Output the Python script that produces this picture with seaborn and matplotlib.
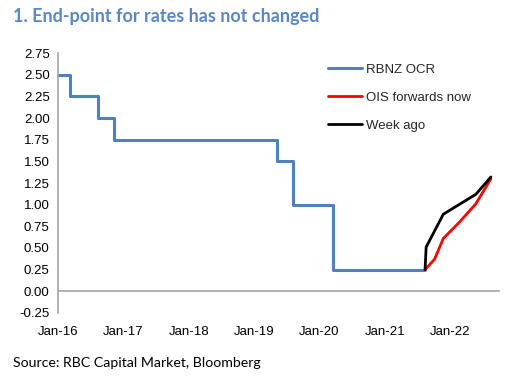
import pandas as pd
import numpy as np
import matplotlib
matplotlib.use('Agg')
import matplotlib.pyplot as plt
import matplotlib.dates as mdates
import seaborn as sns

# RBNZ OCR decisions (step series)
ocr_dates = ['2016-01-01', '2016-03-10', '2016-08-11', '2016-11-10',
             '2019-05-08', '2019-08-07', '2020-03-16', '2021-08-14']
ocr_rate = [2.50, 2.25, 2.00, 1.75, 1.50, 1.00, 0.25, 0.25]

# OIS forwards now
ois_dates = ['2021-08-14', '2021-10-06', '2021-11-24', '2022-02-23',
             '2022-05-25', '2022-08-17']
ois_rate = [0.25, 0.37, 0.61, 0.80, 1.01, 1.30]

# Week ago
wk_dates = ['2021-08-14', '2021-08-20', '2021-11-24', '2022-05-25',
            '2022-08-17']
wk_rate = [0.25, 0.51, 0.89, 1.12, 1.32]

yticks = np.arange(-0.25, 2.76, 0.25)
xtick_years = [2016, 2017, 2018, 2019, 2020, 2021, 2022]

ocr = pd.DataFrame({'date': pd.to_datetime(ocr_dates), 'rate': ocr_rate})
ois = pd.DataFrame({'date': pd.to_datetime(ois_dates), 'rate': ois_rate})
wk = pd.DataFrame({'date': pd.to_datetime(wk_dates), 'rate': wk_rate})

sns.set_style('white')
plt.rcParams['font.family'] = ['Liberation Sans', 'DejaVu Sans']

fig = plt.figure(figsize=(5.05, 3.77), dpi=100)
ax = fig.add_axes([0.115, 0.170, 0.873, 0.689])

sns.lineplot(data=ocr, x='date', y='rate', ax=ax, color='#4F81BD', lw=2.2,
             drawstyle='steps-post', label='RBNZ OCR')
sns.lineplot(data=ois, x='date', y='rate', ax=ax, color='#FF0000', lw=2.0,
             label='OIS forwards now')
sns.lineplot(data=wk, x='date', y='rate', ax=ax, color='black', lw=2.0,
             label='Week ago')

ax.set_xlim(pd.Timestamp('2016-01-01'), pd.Timestamp('2022-10-01'))
ax.set_ylim(-0.25, 2.75)
ax.set_yticks(yticks)
ax.set_yticklabels([f'{v:.2f}' for v in yticks])
ax.set_xticks([pd.Timestamp(f'{y}-01-01') for y in xtick_years])
ax.xaxis.set_major_formatter(mdates.DateFormatter('%b-%y'))
ax.set_xlabel('')
ax.set_ylabel('')

for s in ['top', 'right']:
    ax.spines[s].set_visible(False)
ax.spines['bottom'].set_position(('data', 0))
ax.spines['bottom'].set_color('#A6A6A6')
ax.spines['left'].set_color('#A6A6A6')
ax.spines['bottom'].set_linewidth(1.2)
ax.spines['left'].set_linewidth(1.2)
ax.tick_params(axis='both', direction='out', length=4, width=1, color='#A6A6A6',
               labelsize=9.5, labelcolor='black')
ax.tick_params(axis='x', pad=21)
ax.tick_params(axis='y', pad=2)

ax.legend(loc='upper left', bbox_to_anchor=(0.585, 1.005), frameon=False,
          fontsize=9.5, handlelength=2.6, handletextpad=0.3, labelspacing=1.2)

fig.text(0.026, 0.955, '1. End-point for rates has not changed', fontsize=13,
         fontweight='bold', color='#5A87C6', family='Lato', va='center')
fig.text(0.026, 0.037, 'Source: RBC Capital Market, Bloomberg', fontsize=10.2,
         color='black', family='Lato', va='center')

fig.savefig('out.png', dpi=100)
